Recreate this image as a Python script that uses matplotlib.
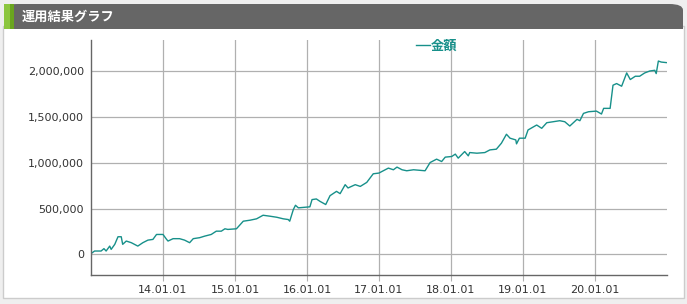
import matplotlib
matplotlib.use("Agg")
import matplotlib.pyplot as plt
from matplotlib.patches import FancyBboxPatch, Rectangle
from matplotlib.ticker import FuncFormatter

# 年（小数）と金額
years = [2013.00, 2013.05, 2013.14, 2013.18, 2013.21, 2013.26, 2013.28, 2013.33, 2013.375, 2013.42,
         2013.44, 2013.49, 2013.56, 2013.65, 2013.72, 2013.79, 2013.86, 2013.91, 2014.00, 2014.05,
         2014.07, 2014.14, 2014.23, 2014.30, 2014.37, 2014.42, 2014.51, 2014.58, 2014.67, 2014.74,
         2014.81, 2014.86, 2014.90, 2015.02, 2015.115, 2015.21, 2015.30, 2015.39, 2015.49, 2015.58,
         2015.67, 2015.74, 2015.76, 2015.81, 2015.84, 2015.88, 2016.04, 2016.07, 2016.13, 2016.18,
         2016.26, 2016.32, 2016.41, 2016.46, 2016.53, 2016.57, 2016.67, 2016.74, 2016.83, 2016.92,
         2017.00, 2017.04, 2017.13, 2017.20, 2017.25, 2017.32, 2017.385, 2017.48, 2017.64, 2017.71,
         2017.80, 2017.87, 2017.92, 2018.01, 2018.06, 2018.10, 2018.19, 2018.24, 2018.26, 2018.36,
         2018.47, 2018.54, 2018.63, 2018.70, 2018.77, 2018.82, 2018.90, 2018.91, 2018.95, 2019.03,
         2019.07, 2019.19, 2019.26, 2019.33, 2019.51, 2019.58, 2019.65, 2019.75, 2019.79, 2019.84,
         2019.91, 2020.02, 2020.09, 2020.12, 2020.21, 2020.25, 2020.30, 2020.37, 2020.44, 2020.49,
         2020.56, 2020.62, 2020.69, 2020.76, 2020.83, 2020.85, 2020.88, 2020.92, 2020.99]
kingaku = [8000, 36000, 36000, 62000, 36000, 90000, 54000, 109000, 192000, 192000,
           109000, 145000, 127000, 90000, 127000, 155000, 163000, 217000, 217000, 163000,
           145000, 171000, 171000, 155000, 127000, 171000, 182000, 199000, 217000, 253000,
           253000, 279000, 272000, 279000, 362000, 373000, 388000, 427000, 416000, 405000,
           388000, 380000, 362000, 489000, 536000, 508000, 519000, 598000, 605000, 579000,
           544000, 641000, 688000, 663000, 761000, 725000, 761000, 742000, 786000, 880000,
           888000, 905000, 942000, 924000, 953000, 924000, 913000, 924000, 913000, 1003000,
           1040000, 1014000, 1062000, 1069000, 1095000, 1051000, 1123000, 1076000, 1112000, 1105000,
           1112000, 1141000, 1149000, 1214000, 1312000, 1269000, 1250000, 1207000, 1269000, 1269000,
           1359000, 1413000, 1377000, 1438000, 1460000, 1449000, 1402000, 1475000, 1460000, 1540000,
           1558000, 1565000, 1533000, 1595000, 1595000, 1848000, 1866000, 1837000, 1982000, 1910000,
           1946000, 1946000, 1982000, 2003000, 2011000, 1975000, 2112000, 2101000, 2095000]

x_ticks = [2014, 2015, 2016, 2017, 2018, 2019, 2020]
x_labels = ["14.01.01", "15.01.01", "16.01.01", "17.01.01", "18.01.01", "19.01.01", "20.01.01"]
y_ticks = [0, 500000, 1000000, 1500000, 2000000]

W, H = 687, 304
fig = plt.figure(figsize=(W / 100, H / 100), dpi=100)
fig.patch.set_facecolor("#efefef")

# パネルとヘッダー
fig.patches.append(Rectangle((3 / W, 1 - 298 / H), 681 / W, 272 / H, transform=fig.transFigure,
                             facecolor="white", edgecolor="#cccccc", lw=1, zorder=0))
fig.patches.append(FancyBboxPatch((4 / W, 1 - 29 / H), 679 / W, 25 / H,
                                  boxstyle="round,pad=0,rounding_size=0.02",
                                  transform=fig.transFigure, facecolor="#666666",
                                  edgecolor="none", zorder=1))
fig.patches.append(Rectangle((4 / W, 1 - 29 / H), 679 / W, 12 / H, transform=fig.transFigure,
                             facecolor="#666666", edgecolor="none", zorder=1))
fig.patches.append(Rectangle((4 / W, 1 - 29 / H), 10 / W, 25 / H, transform=fig.transFigure,
                             facecolor="#8cc63f", edgecolor="none", zorder=2))
fig.patches.append(Rectangle((10 / W, 1 - 29 / H), 4 / W, 25 / H, transform=fig.transFigure,
                             facecolor="#6aa51f", edgecolor="none", zorder=2))
fig.text(22 / W, 1 - 16.5 / H, "運用結果グラフ", color="white", fontsize=9.5, fontweight="bold",
         family=["Noto Sans CJK JP", "DejaVu Sans"], va="center", ha="left", zorder=3)

ax = fig.add_axes([91 / W, 1 - 275 / H, 576 / W, 235 / H], zorder=5)
ax.patch.set_alpha(0)
ax.plot(years, kingaku, color="#17908a", lw=1.0, label="金額")
ax.set_xlim(2013.0, 2021.0)
ax.set_ylim(-226000, 2342000)
ax.set_xticks(x_ticks)
ax.set_xticklabels(x_labels)
ax.set_yticks(y_ticks)
ax.yaxis.set_major_formatter(FuncFormatter(lambda v, p: f"{int(v):,}"))
ax.grid(True, color="#b0b0b0", lw=0.9)
ax.set_axisbelow(True)
for s in ["top", "right"]:
    ax.spines[s].set_visible(False)
for s in ["left", "bottom"]:
    ax.spines[s].set_color("#666666")
    ax.spines[s].set_linewidth(1)
ax.tick_params(axis="y", length=0, pad=5, labelsize=8, labelcolor="#333333")
ax.tick_params(axis="x", length=4, color="#b0b0b0", pad=3, labelsize=8, labelcolor="#333333")

leg = fig.legend(loc="center", bbox_to_anchor=(437 / W, 1 - 46 / H), frameon=False, handlelength=1.0,
                 handletextpad=0.1, prop={"family": ["Noto Sans CJK JP"], "size": 9.5, "weight": "bold"},
                 labelcolor="#17908a")
leg.set_zorder(6)

fig.savefig("out.png", dpi=100, facecolor=fig.get_facecolor())
